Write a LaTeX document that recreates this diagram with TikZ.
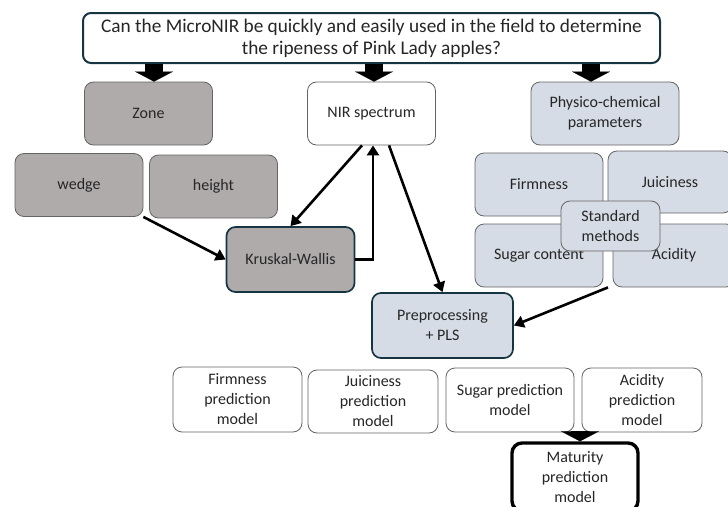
\documentclass[tikz,border=0pt]{standalone}
\usepackage{fontspec}
\setmainfont{Carlito}
\usepackage{tikz}
\usetikzlibrary{arrows.meta, calc}
\definecolor{zoneblock}{RGB}{175, 171, 171}
\definecolor{paramblock}{RGB}{214, 220, 229}
\definecolor{navyline}{RGB}{22, 52, 66}
\definecolor{greyline}{RGB}{100, 100, 100}

\begin{document}
\begin{tikzpicture}[x=1pt, y=-1pt,
		box/.style={draw=greyline, line width=0.8pt, rounded corners=9pt, align=center,
			inner sep=0pt, text=black!85, font=\fontsize{16}{20}\selectfont},
		zonebox/.style={box, fill=zoneblock},
		parambox/.style={box, fill=paramblock},
		modelbox/.style={box, fill=white},
		mainbox/.style={draw=navyline, line width=1.7pt},
		thinarr/.style={line width=2.6pt, -{Triangle[length=10pt, width=12pt]}},
		blockarr/.style={line width=18pt, -{Triangle[length=10pt, width=38pt, line width=0.1pt]}}
	]
	\def\bw{128}
	\def\bh{63}

	\path[use as bounding box] (0,0) rectangle (728,506);
	\clip (0,0) rectangle (728,506);

	% --- question ---
	\node[box, mainbox, line width=2pt, rounded corners=8pt, fill=white,
		minimum width=577, minimum height=50, font=\fontsize{19.3}{22}\selectfont]
		(quest) at (371.5, 38) {Can the MicroNIR be quickly and easily used in the field to determine\\the ripeness of Pink Lady apples?};

	% --- zone branch ---
	\node[zonebox, minimum width=\bw, minimum height=\bh] (zone) at (148.5, 113.5) {Zone};
	\node[zonebox, minimum width=\bw, minimum height=\bh] (wedge) at (79, 185) {wedge};
	\node[zonebox, minimum width=\bw, minimum height=\bh] (height) at (213.5, 186.5) {height};
	\node[zonebox, mainbox, minimum width=\bw, minimum height=65] (kw) at (290.5, 259.5) {Kruskal-Wallis};

	% --- spectrum ---
	\node[modelbox, minimum width=\bw, minimum height=\bh] (nir) at (371.5, 113.5) {NIR spectrum};
	\node[parambox, mainbox, minimum width=141, minimum height=65] (pre) at (442.5, 325.5) {Preprocessing\\+ PLS};

	% --- physico-chemical branch ---
	\node[parambox, minimum width=148, minimum height=\bh] (phys) at (605, 113.5) {Physico-chemical\\parameters};
	\node[parambox, minimum width=\bw, minimum height=\bh] (firm) at (539, 184.5) {Firmness};
	\node[parambox, minimum width=124, minimum height=62] (juice) at (670, 182) {Juiciness};
	\node[parambox, minimum width=\bw, minimum height=\bh] (sugar) at (539, 255.5) {Sugar content};
	\node[parambox, minimum width=122, minimum height=\bh] (acid) at (674, 255.5) {Acidity};
	\node[parambox, minimum width=99, minimum height=50] (std) at (610.5, 226) {Standard\\methods};

	% --- prediction models ---
	\node[modelbox, minimum width=129, minimum height=65] (mfirm) at (237.5, 399.5) {Firmness\\prediction\\model};
	\node[modelbox, minimum width=130, minimum height=\bh] (mjuice) at (373, 401.5) {Juiciness\\prediction\\model};
	\node[modelbox, minimum width=\bw, minimum height=64] (msugar) at (510, 400) {Sugar prediction\\model};
	\node[modelbox, minimum width=120, minimum height=64] (macid) at (642, 400) {Acidity\\prediction\\model};
	\node[modelbox, draw=black, line width=3.4pt, rounded corners=10pt, minimum width=126, minimum height=68]
		(mat) at (575, 477) {Maturity\\prediction\\model};

	% --- block arrows ---
	\draw[blockarr] ([xshift=5.5pt]zone.north |- quest.south) -- ([xshift=5.5pt]zone.north);
	\draw[blockarr] ([xshift=2.5pt]nir.north |- quest.south) -- ([xshift=2.5pt]nir.north);
	\draw[blockarr] ([xshift=-14pt]phys.north |- quest.south) -- ([xshift=-14pt]phys.north);
	\draw[blockarr] ([xshift=5pt]mat.north |- macid.south) -- ([xshift=5pt]mat.north);

	% --- connectors ---
	\draw[thinarr] (wedge.south east) -- (kw.west);
	\draw[thinarr] ([xshift=-9.5pt]nir.south) -- (kw.north);
	\draw[thinarr] (kw.east) -| ([xshift=1.5pt]nir.south);
	\draw[thinarr] ([xshift=17.5pt]nir.south) -- (pre.north);
	\draw[thinarr] ($(sugar.south east)!0.5!(acid.south west)$) -- (pre.east);

\end{tikzpicture}
\end{document}
